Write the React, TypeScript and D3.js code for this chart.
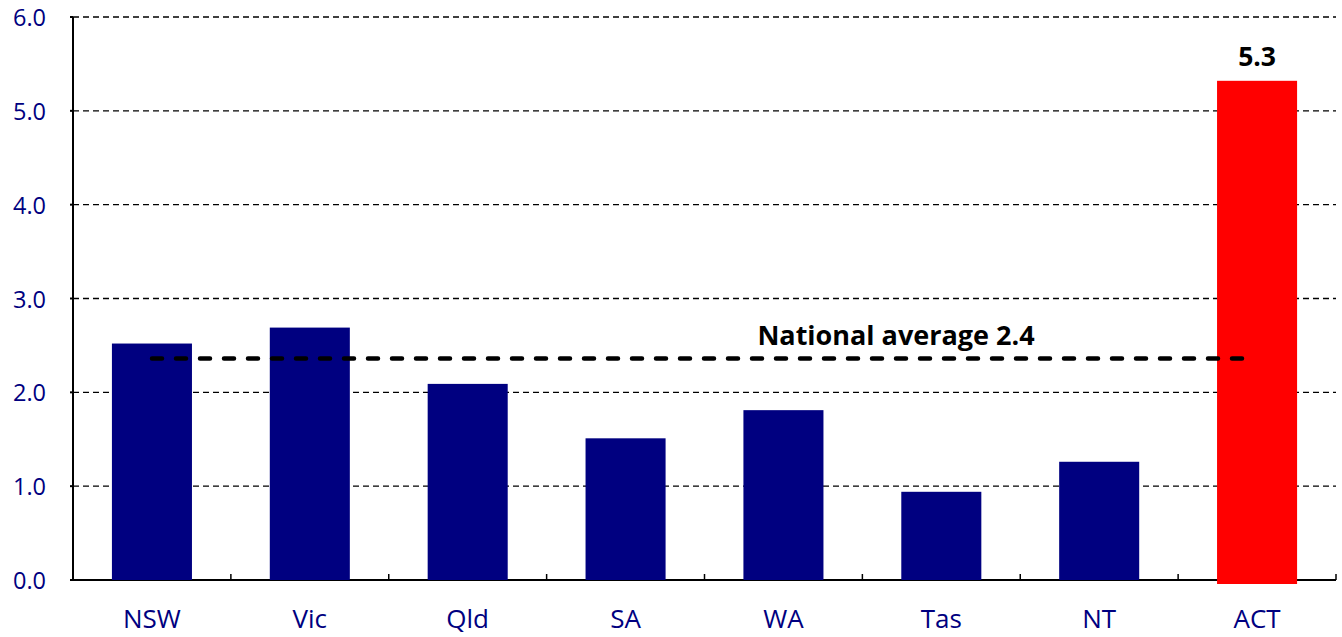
import React from "react";
import * as d3 from "d3";

const categories = ["NSW", "Vic", "Qld", "SA", "WA", "Tas", "NT", "ACT"];
const values = [2.52, 2.69, 2.09, 1.51, 1.81, 0.94, 1.26, 5.32];
const highlight = ["ACT"];
const yTicks = [0, 1, 2, 3, 4, 5, 6];
const nationalAverage = 2.36;
const nationalLabel = "National average 2.4";
const actLabel = "5.3";

const W = 1342;
const H = 637;
const margin = { left: 73, right: 6, top: 17, bottom: 57 };
const FONT = "'Open Sans', Lato, sans-serif";

export default function App() {
  const x = d3
    .scaleBand<string>()
    .domain(categories)
    .range([margin.left, W - margin.right])
    .paddingInner(0.493)
    .paddingOuter(0.2465);
  const y = d3.scaleLinear().domain([0, 6]).range([H - margin.bottom, margin.top]);
  const band = (W - margin.right - margin.left) / categories.length;
  const y0 = y(0);
  const actIdx = categories.indexOf("ACT");

  return (
    <svg
      width={W}
      height={H}
      style={{ position: "absolute", left: 0, top: 0, background: "#fff" }}
    >
      {yTicks.map((t) =>
        t > 0 ? (
          <line
            key={"g" + t}
            x1={margin.left}
            x2={W - margin.right}
            y1={y(t)}
            y2={y(t)}
            stroke="#000"
            strokeWidth={1.3}
            strokeDasharray="6,4"
          />
        ) : null
      )}
      {yTicks.map((t) => (
        <g key={"t" + t}>
          <line x1={margin.left - 3} x2={margin.left} y1={y(t)} y2={y(t)} stroke="#000" strokeWidth={2} />
          <text
            x={46}
            y={y(t) + 9}
            textAnchor="end"
            fill="#000080"
            fontSize={23.5}
            fontFamily={FONT}
          >
            {t.toFixed(1)}
          </text>
        </g>
      ))}
      {/* axes */}
      <line x1={margin.left} x2={margin.left} y1={y(6)} y2={y0} stroke="#000" strokeWidth={2} />
      <line x1={margin.left - 1} x2={W - margin.right} y1={y0} y2={y0} stroke="#000" strokeWidth={2} />
      {d3.range(1, categories.length + 1).map((i) => (
        <line
          key={"xt" + i}
          x1={margin.left + i * band}
          x2={margin.left + i * band}
          y1={y0}
          y2={y0 - 6}
          stroke="#000"
          strokeWidth={1.5}
        />
      ))}
      {categories.map((c, i) => {
        const isHi = highlight.includes(c);
        return (
          <rect
            key={c}
            x={x(c)}
            y={y(values[i])}
            width={x.bandwidth()}
            height={y0 - y(values[i]) + (isHi ? 4 : 0)}
            fill={isHi ? "#ff0000" : "#000080"}
          />
        );
      })}
      {categories.map((c) => (
        <text
          key={"l" + c}
          x={(x(c) as number) + x.bandwidth() / 2}
          y={628}
          textAnchor="middle"
          fill="#000080"
          fontSize={26}
          fontFamily={FONT}
        >
          {c}
        </text>
      ))}
      <line
        x1={152}
        x2={1246}
        y1={y(nationalAverage)}
        y2={y(nationalAverage)}
        stroke="#000"
        strokeWidth={4.5}
        strokeLinecap="round"
        strokeDasharray="10,14"
      />
      <text
        x={896}
        y={345}
        textAnchor="middle"
        fontSize={27}
        fontWeight="bold"
        fontFamily={FONT}
        fill="#000"
      >
        {nationalLabel}
      </text>
      <text
        x={(x(categories[actIdx]) as number) + x.bandwidth() / 2}
        y={66}
        textAnchor="middle"
        fontSize={26.5}
        fontWeight="bold"
        fontFamily={FONT}
        fill="#000"
      >
        {actLabel}
      </text>
    </svg>
  );
}
